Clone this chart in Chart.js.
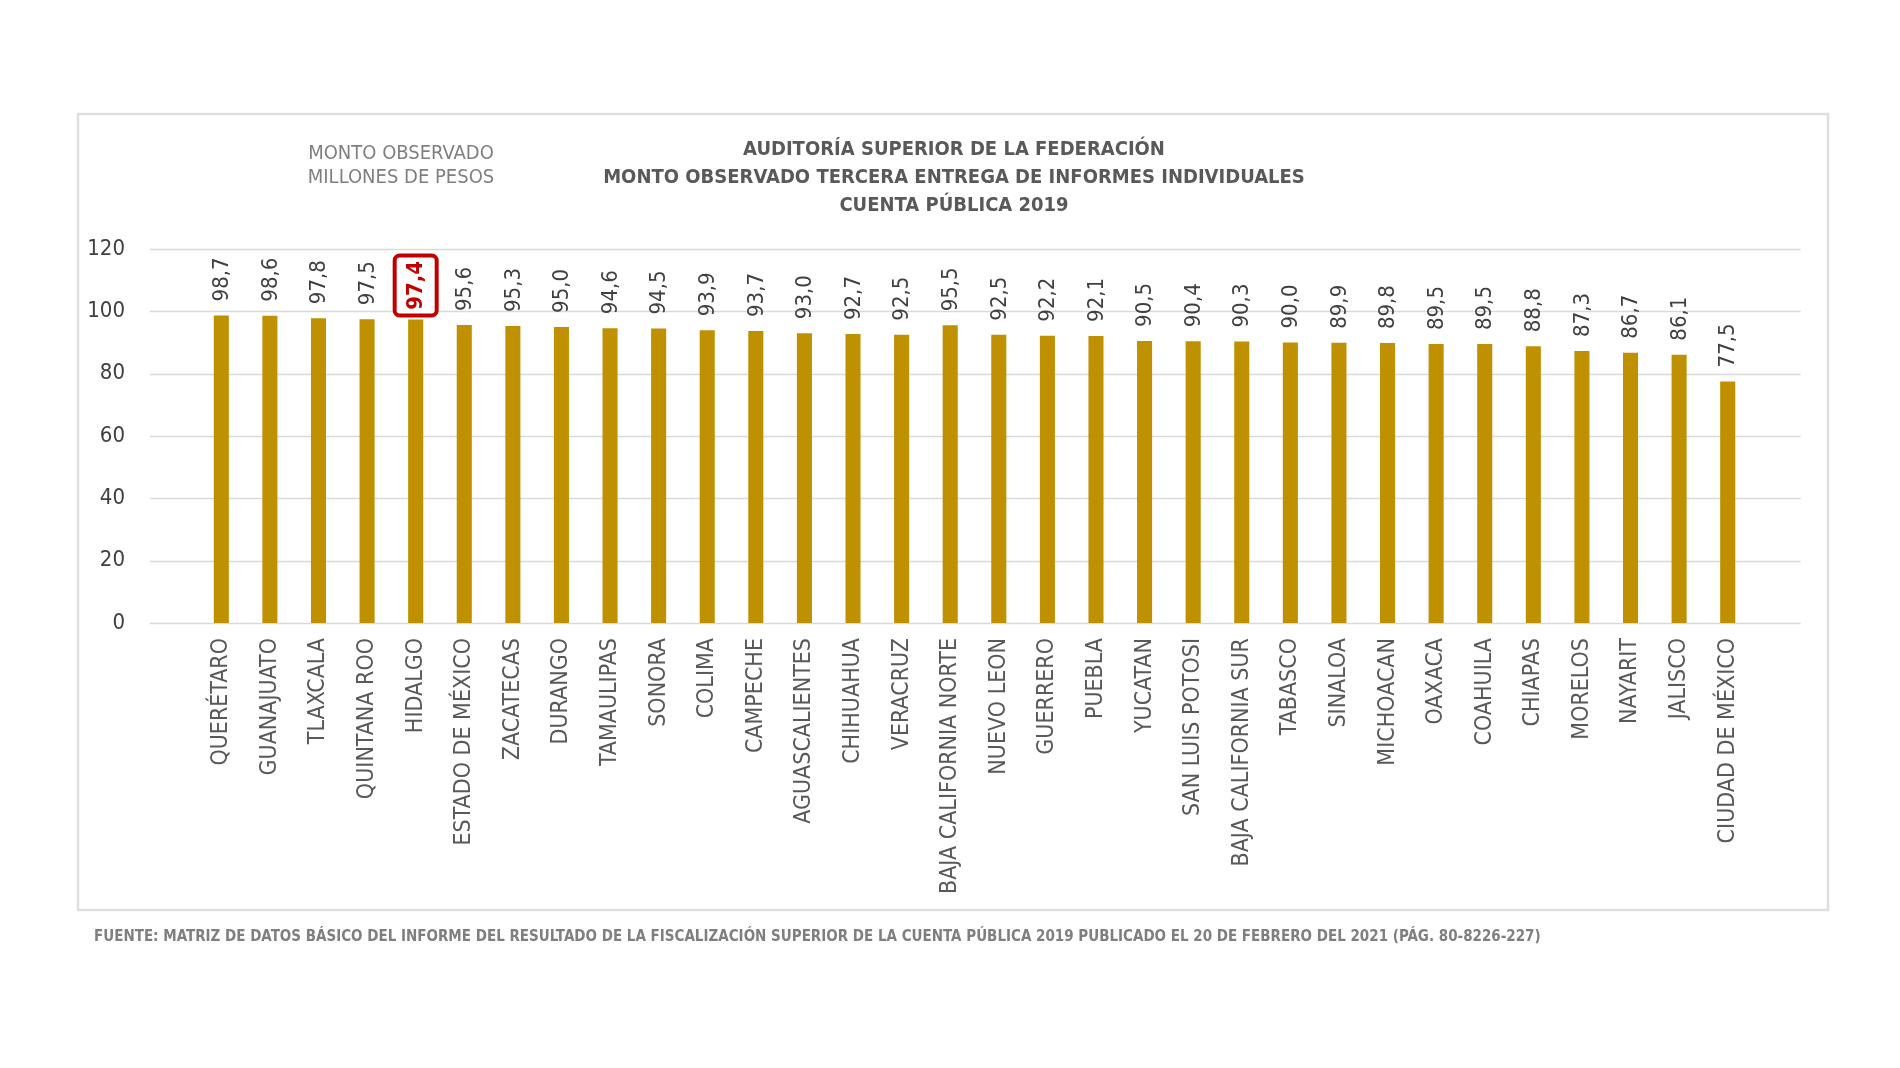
<!DOCTYPE html>
<html>
<head>
<meta charset="utf-8">
<script src="https://cdn.jsdelivr.net/npm/chart.js@4.4.1/dist/chart.umd.min.js"></script>
<style>
  html, body { margin: 0; padding: 0; background: #fff; }
  .chartDiv { width: 1900px; height: 1068px; }
</style>
</head>
<body>
<div class="chartDiv"><canvas id="myChart"></canvas></div>
<script>
const states = ["QUERÉTARO", "GUANAJUATO", "TLAXCALA", "QUINTANA ROO", "HIDALGO", "ESTADO DE MÉXICO",
  "ZACATECAS", "DURANGO", "TAMAULIPAS", "SONORA", "COLIMA", "CAMPECHE", "AGUASCALIENTES",
  "CHIHUAHUA", "VERACRUZ", "BAJA CALIFORNIA NORTE", "NUEVO LEON", "GUERRERO", "PUEBLA",
  "YUCATAN", "SAN LUIS POTOSI", "BAJA CALIFORNIA SUR", "TABASCO", "SINALOA", "MICHOACAN",
  "OAXACA", "COAHUILA", "CHIAPAS", "MORELOS", "NAYARIT", "JALISCO", "CIUDAD DE MÉXICO"]
const amounts = [98.7, 98.6, 97.8, 97.5, 97.4, 95.6, 95.3, 95.0, 94.6, 94.5, 93.9, 93.7, 93.0,
  92.7, 92.5, 95.5, 92.5, 92.2, 92.1, 90.5, 90.4, 90.3, 90.0, 89.9, 89.8,
  89.5, 89.5, 88.8, 87.3, 86.7, 86.1, 77.5]
const yTicks = [0, 20, 40, 60, 80, 100, 120]
const highlightState = "HIDALGO"

const titleLines = ["AUDITORÍA SUPERIOR DE LA FEDERACIÓN",
  "MONTO OBSERVADO TERCERA ENTREGA DE INFORMES INDIVIDUALES",
  "CUENTA PÚBLICA 2019"]
const noteLines = ["MONTO OBSERVADO", "MILLONES DE PESOS"]
const sourceText = "FUENTE: MATRIZ DE DATOS BÁSICO DEL INFORME DEL RESULTADO DE LA FISCALIZACIÓN SUPERIOR DE LA CUENTA PÚBLICA 2019 PUBLICADO EL 20 DE FEBRERO DEL 2021 (PÁG. 80-8226-227)"

const narrow = "'Liberation Sans Narrow', 'Arial Narrow', 'DejaVu Sans Condensed', sans-serif"
const gold = '#bf9000'
const gridColor = '#d9d9d9'

const fmt = v => v.toFixed(1).replace('.', ',')

// horizontal grid lines run a bit wider than the bars, like the excel plot area
const extendedGrid = {
  id: 'extendedGrid',
  beforeDatasetsDraw(chart) {
    const { ctx, chartArea, scales: { x, y } } = chart
    const step = x.getPixelForValue(1) - x.getPixelForValue(0)
    ctx.save()
    ctx.strokeStyle = gridColor
    ctx.lineWidth = 1.5
    y.ticks.forEach(t => {
      const py = Math.round(y.getPixelForValue(t.value)) + 0.5
      ctx.beginPath()
      ctx.moveTo(chartArea.left - step * 0.97, py)
      ctx.lineTo(chartArea.right + step, py)
      ctx.stroke()
    })
    ctx.restore()
  }
}

// vertical value labels above every bar, boxed one for the highlighted state
const valueLabels = {
  id: 'valueLabels',
  afterDatasetsDraw(chart) {
    const { ctx } = chart
    const meta = chart.getDatasetMeta(0)
    meta.data.forEach((bar, i) => {
      const text = fmt(amounts[i])
      const hi = states[i] === highlightState
      ctx.save()
      if (hi) {
        const w = 42, h = 60
        const top = bar.y - 4 - h
        ctx.beginPath()
        ctx.roundRect(bar.x - w / 2, top, w, h, 5)
        ctx.fillStyle = '#fff'
        ctx.fill()
        ctx.lineWidth = 4
        ctx.strokeStyle = '#c00000'
        ctx.stroke()
        ctx.translate(bar.x + 1, top + h / 2)
        ctx.rotate(-Math.PI / 2)
        ctx.textAlign = 'center'
        ctx.textBaseline = 'middle'
        ctx.font = 'bold 22px ' + narrow
        ctx.fillStyle = '#c00000'
        ctx.fillText(text, 0, 0)
      } else {
        ctx.translate(bar.x + 1, bar.y - 14)
        ctx.rotate(-Math.PI / 2)
        ctx.textAlign = 'left'
        ctx.textBaseline = 'middle'
        ctx.font = '22px ' + narrow
        ctx.fillStyle = '#404040'
        ctx.fillText(text, 0, 0)
      }
      ctx.restore()
    })
  }
}

const frameAndTexts = {
  id: 'frameAndTexts',
  beforeDraw(chart) {
    const { ctx } = chart
    ctx.save()
    ctx.fillStyle = '#fff'
    ctx.fillRect(0, 0, chart.width, chart.height)
    ctx.strokeStyle = '#dedede'
    ctx.lineWidth = 2.5
    ctx.strokeRect(78, 114, 1750, 796)
    ctx.restore()
  },
  afterDraw(chart) {
    const { ctx } = chart
    ctx.save()
    ctx.textBaseline = 'middle'
    ctx.textAlign = 'center'
    ctx.fillStyle = '#595959'
    ctx.font = 'bold 20px ' + narrow
    titleLines.forEach((line, i) => ctx.fillText(line, 954, 150 + i * 28))

    ctx.fillStyle = '#7f7f7f'
    ctx.font = '20px ' + narrow
    noteLines.forEach((line, i) => ctx.fillText(line, 401, 154 + i * 24))

    ctx.textAlign = 'left'
    ctx.fillStyle = '#7f7f7f'
    ctx.font = 'bold 15px ' + narrow
    ctx.fillText(sourceText, 94, 937)
    ctx.restore()
  }
}

const data = {
  labels: states,
  datasets: [{
    label: 'Monto observado',
    data: amounts,
    backgroundColor: gold,
    borderWidth: 0,
    categoryPercentage: 1,
    barPercentage: 0.31
  }]
}

const config = {
  type: 'bar',
  data: data,
  options: {
    responsive: false,
    animation: false,
    layout: { padding: { left: 0, right: 148, top: 249, bottom: 0 } },
    plugins: {
      legend: { display: false },
      tooltip: { enabled: false }
    },
    scales: {
      x: {
        grid: { display: false, drawTicks: false },
        border: { display: false },
        afterFit(scale) { scale.height = 445 },
        ticks: {
          autoSkip: false,
          minRotation: 90,
          maxRotation: 90,
          padding: 15,
          color: '#595959',
          font: { family: narrow, size: 23 }
        }
      },
      y: {
        min: 0,
        max: 120,
        grid: { display: false, drawTicks: false },
        border: { display: false },
        afterFit(scale) { scale.width = 197 },
        afterBuildTicks(scale) { scale.ticks = yTicks.map(v => ({ value: v })) },
        ticks: {
          padding: 72,
          color: '#404040',
          font: { family: narrow, size: 22 }
        }
      }
    }
  },
  plugins: [frameAndTexts, extendedGrid, valueLabels]
}

const canvas = document.getElementById('myChart')
canvas.width = 1900
canvas.height = 1068
const myChart = new Chart(canvas, config)
</script>
</body>
</html>
